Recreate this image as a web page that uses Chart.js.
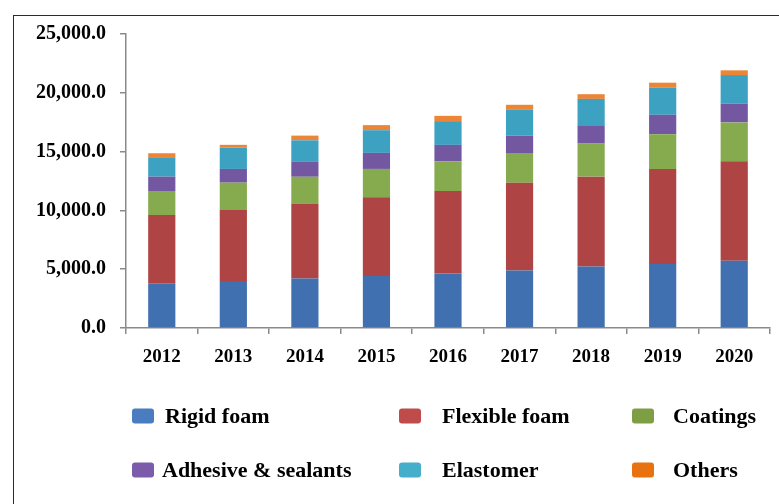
<!DOCTYPE html>
<html>
<head>
<meta charset="utf-8">
<script src="https://cdn.jsdelivr.net/npm/chart.js@4"></script>
<style>
  html, body { margin: 0; padding: 0; background: #fff; overflow: hidden; }
  #wrap { position: relative; width: 779px; height: 504px; }
  #frame { position: absolute; left: 13px; top: 15px; width: 900px; height: 700px; border: 1.5px solid #2b2b2b; box-sizing: border-box; }
  canvas { position: absolute; left: 0; top: 0; }
</style>
</head>
<body>
<div id="wrap">
  <div id="frame"></div>
  <canvas id="c" width="779" height="504"></canvas>
</div>
<script>
const years = ['2012', '2013', '2014', '2015', '2016', '2017', '2018', '2019', '2020'];
const rigidFoam    = [3800, 4000, 4200, 4430, 4630, 4900, 5230, 5450, 5710];
const flexibleFoam = [5800, 6030, 6360, 6680, 7020, 7450, 7640, 8070, 8470];
const coatings     = [2050, 2330, 2300, 2415, 2530, 2530, 2810, 2960, 3300];
const adhesives    = [1220, 1165, 1310, 1365, 1390, 1480, 1560, 1650, 1590];
const elastomer    = [1650, 1820, 1790, 1930, 2020, 2190, 2240, 2300, 2440];
const others       = [340, 230, 400, 430, 450, 430, 400, 430, 400];
const seriesNames  = ['Rigid foam', 'Flexible foam', 'Coatings', 'Adhesive & sealants', 'Elastomer', 'Others'];
const yTicks = [0, 5000, 10000, 15000, 20000, 25000];

const colors = ['#4170B0', '#AE4443', '#86AB4F', '#7357A0', '#3DA2C2', '#EC8535'];
const legendColors = ['#4A7CC0', '#C04B4B', '#7E9E44', '#7C5CAA', '#45AFCB', '#E8720F'];
const seriesData = [rigidFoam, flexibleFoam, coatings, adhesives, elastomer, others];

const legendPlugin = {
  id: 'gridLegend',
  afterDraw(chart) {
    const ctx = chart.ctx;
    const boxX = [132, 399, 632];
    const textX = [165, 442, 673];
    const rowY = [416, 470];
    ctx.save();
    chart.data.datasets.forEach((ds, i) => {
      const col = i % 3, row = Math.floor(i / 3);
      const bx = boxX[col], by = rowY[row] - 7.5;
      ctx.fillStyle = legendColors[i];
      ctx.beginPath();
      ctx.roundRect(bx, by, 22, 15, 3);
      ctx.fill();
      ctx.fillStyle = '#000';
      ctx.font = 'bold 22px "Liberation Serif", "Times New Roman", serif';
      ctx.textBaseline = 'middle';
      ctx.textAlign = 'left';
      ctx.fillText(ds.label, textX[col] - (row === 1 && col === 0 ? 3 : 0), rowY[row] + 1);
    });
    ctx.restore();
  }
};

new Chart(document.getElementById('c'), {
  type: 'bar',
  data: {
    labels: years,
    datasets: seriesNames.map((name, i) => ({
      label: name,
      data: seriesData[i],
      backgroundColor: colors[i],
      borderWidth: 0,
      categoryPercentage: 1.0,
      barPercentage: 0.38
    }))
  },
  options: {
    responsive: false,
    animation: false,
    events: [],
    layout: { padding: { left: 0, top: 34, right: 9, bottom: 100 } },
    plugins: { legend: { display: false }, tooltip: { enabled: false }, title: { display: false } },
    scales: {
      x: {
        stacked: true,
        offset: true,
        grid: { drawOnChartArea: false, drawTicks: true, tickLength: 6, color: '#8a8a8a', lineWidth: 1.5, offset: true },
        border: { display: true, color: '#8a8a8a', width: 1.5 },
        ticks: { color: '#000', padding: 12, font: { family: '"Liberation Serif", "Times New Roman", serif', size: 19, weight: 'bold' }, maxRotation: 0 },
        afterFit(scale) { scale.height = 76; }
      },
      y: {
        stacked: true,
        min: 0,
        max: 25000,
        afterBuildTicks(scale) { scale.ticks = yTicks.map(v => ({ value: v })); },
        grid: { drawOnChartArea: false, drawTicks: true, tickLength: 6, color: '#8a8a8a', lineWidth: 1.5 },
        border: { display: true, color: '#8a8a8a', width: 1.5 },
        ticks: {
          color: '#000',
          padding: 14,
          font: { family: '"Liberation Serif", "Times New Roman", serif', size: 20, weight: 'bold' },
          callback: v => v.toLocaleString('en-US', { minimumFractionDigits: 1, maximumFractionDigits: 1 })
        },
        afterFit(scale) { scale.width = 126; }
      }
    }
  },
  plugins: [legendPlugin]
});
</script>
</body>
</html>
